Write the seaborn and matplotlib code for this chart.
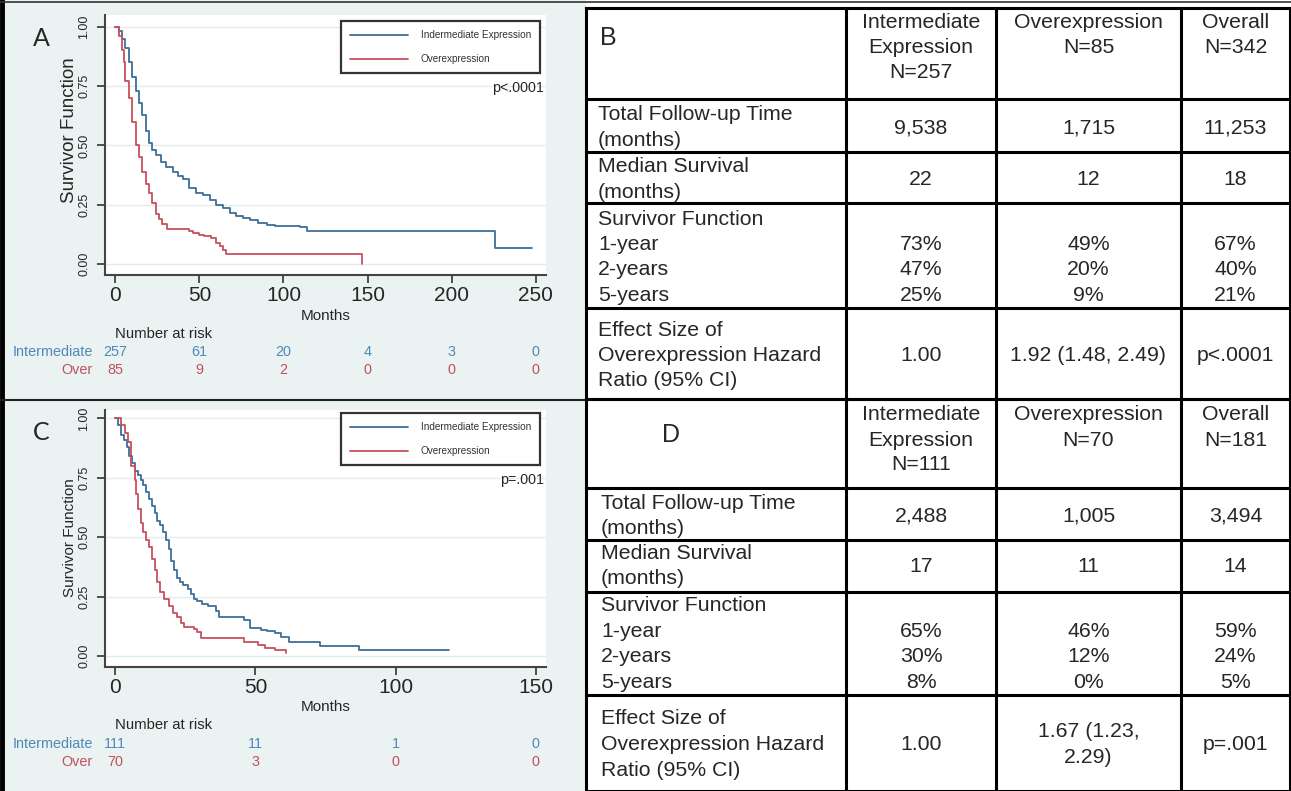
import numpy as np
import pandas as pd
import matplotlib
matplotlib.use("Agg")
import matplotlib.pyplot as plt
import matplotlib.transforms as mtransforms
from matplotlib.lines import Line2D
from matplotlib.patches import Rectangle
import seaborn as sns

# ===================================================
# DATA
# ===================================================

# Panel A - Kaplan-Meier steps (months, survivor function)
a_int_t = [0, 2, 4, 6, 8, 10, 12, 14, 16, 18, 20, 22, 24, 27, 30, 34, 37, 40, 44, 48,
           52, 56, 60, 64, 68, 72, 76, 80, 85, 90, 95, 110, 114, 226, 248]
a_int_s = [1.00, 0.98, 0.95, 0.91, 0.85, 0.79, 0.73, 0.68, 0.63, 0.56, 0.51, 0.48, 0.46,
           0.43, 0.41, 0.39, 0.37, 0.36, 0.32, 0.30, 0.29, 0.27, 0.25, 0.235, 0.217, 0.205,
           0.195, 0.185, 0.175, 0.165, 0.16, 0.155, 0.141, 0.07, 0.07]
a_over_t = [0, 2, 4, 5, 6, 8, 10, 12, 14, 16, 18, 20, 22, 24, 26, 28, 30.5, 44, 46,
            50, 53, 57, 60, 62, 64, 66, 147, 147]
a_over_s = [1.00, 0.96, 0.90, 0.85, 0.77, 0.70, 0.60, 0.50, 0.45, 0.39, 0.34, 0.30, 0.26,
            0.21, 0.19, 0.17, 0.147, 0.14, 0.13, 0.125, 0.12, 0.11, 0.09, 0.075, 0.06,
            0.043, 0.043, 0.0]
a_risk_t = [0, 50, 100, 150, 200, 250]
a_risk_int = [257, 61, 20, 4, 3, 0]
a_risk_over = [85, 9, 2, 0, 0, 0]

# Panel C - Kaplan-Meier steps
c_int_t = [0, 1, 2, 3, 4, 5, 6, 7, 8, 9, 10, 11, 12, 13, 14, 15, 16, 17, 18, 19, 20, 21,
           22, 23, 24, 26, 27, 28, 29, 31, 33, 36, 37, 46, 48, 52, 54, 57, 59, 62, 73,
           87, 119]
c_int_s = [1.00, 0.97, 0.93, 0.91, 0.88, 0.84, 0.81, 0.78, 0.76, 0.74, 0.72, 0.69, 0.66,
           0.63, 0.60, 0.57, 0.55, 0.52, 0.49, 0.45, 0.40, 0.36, 0.33, 0.31, 0.30, 0.28,
           0.26, 0.24, 0.23, 0.22, 0.21, 0.19, 0.165, 0.15, 0.116, 0.11, 0.105, 0.095,
           0.08, 0.06, 0.043, 0.025, 0.025]
c_over_t = [0, 2, 3.5, 4.5, 5.5, 7, 7.5, 8, 9, 10, 11, 12, 13, 14, 15, 16, 17.5, 19,
            20.5, 22, 23.5, 24.5, 28, 29, 30.5, 46, 51, 53.5, 57, 61]
c_over_s = [1.00, 0.97, 0.94, 0.90, 0.80, 0.74, 0.68, 0.62, 0.56, 0.52, 0.49, 0.46, 0.41,
            0.36, 0.31, 0.27, 0.24, 0.21, 0.18, 0.165, 0.14, 0.12, 0.115, 0.10, 0.075,
            0.06, 0.045, 0.035, 0.025, 0.011]
c_risk_t = [0, 50, 100, 150]
c_risk_int = [111, 11, 1, 0]
c_risk_over = [70, 3, 0, 0]

# Table B
b_heads = [["Intermediate", "Expression", "N=257"], ["Overexpression", "N=85"], ["Overall", "N=342"]]
b_followup = ["9,538", "1,715", "11,253"]
b_median = ["22", "12", "18"]
b_surv_1y = ["73%", "49%", "67%"]
b_surv_2y = ["47%", "20%", "40%"]
b_surv_5y = ["25%", "9%", "21%"]
b_hr = [["1.00"], ["1.92 (1.48, 2.49)"], ["p<.0001"]]

# Table D
d_heads = [["Intermediate", "Expression", "N=111"], ["Overexpression", "N=70"], ["Overall", "N=181"]]
d_followup = ["2,488", "1,005", "3,494"]
d_median = ["17", "11", "14"]
d_surv_1y = ["65%", "46%", "59%"]
d_surv_2y = ["30%", "12%", "24%"]
d_surv_5y = ["8%", "0%", "5%"]
d_hr = [["1.00"], ["1.67 (1.23,", "2.29)"], ["p=.001"]]

row_labels = [["Total Follow-up Time", "(months)"],
              ["Median Survival", "(months)"],
              ["Survivor Function", "1-year", "2-years", "5-years"],
              ["Effect Size of", "Overexpression Hazard", "Ratio (95% CI)"]]

group_names = ["Indermediate Expression", "Overexpression"]

# ===================================================
# STYLE
# ===================================================

W, H = 1291, 791
BLUE = "#3b6e98"
RED = "#c8505c"
BLUE_TXT = "#4f89b8"
RED_TXT = "#c2505f"
BG = "#eaf2f2"

sns.set_style("white")
plt.rcParams["font.family"] = ["Liberation Sans", "DejaVu Sans"]

fig = plt.figure(figsize=(W / 100, H / 100), dpi=100)


def frac(x0, y0, x1, y1):
    return [x0 / W, 1 - y1 / H, (x1 - x0) / W, (y1 - y0) / H]


# background / frame canvas in pixel coords
bg = fig.add_axes([0, 0, 1, 1], zorder=0)
bg.set_xlim(0, W)
bg.set_ylim(H, 0)
bg.axis("off")
bg.add_patch(Rectangle((0, 0), 586, 399, fc=BG, ec="none"))
bg.add_patch(Rectangle((0, 401), 586, 390, fc=BG, ec="none"))
bg.plot([2, 2], [0, H], color="black", lw=3.5)
bg.plot([0, W], [1.5, 1.5], color="#333333", lw=1.2)
bg.plot([0, 586], [400, 400], color="#222222", lw=1.5)


# ===================================================
# KM PANELS
# ===================================================

def km_panel(top, bottom, xlim, ylim, int_t, int_s, over_t, over_s,
             risk_t, risk_int, risk_over, ptxt, letter, ys):
    ax = fig.add_axes(frac(105.4, top, 545.6, bottom), zorder=2)
    ax.set_facecolor("white")
    df = pd.concat([
        pd.DataFrame({"Months": int_t, "Survival": int_s, "Group": group_names[0]}),
        pd.DataFrame({"Months": over_t, "Survival": over_s, "Group": group_names[1]}),
    ])
    sns.lineplot(data=df, x="Months", y="Survival", hue="Group",
                 palette=[BLUE, RED], estimator=None, sort=False,
                 drawstyle="steps-post", lw=1.3, ax=ax, legend=False)

    ax.set_xlim(xlim)
    ax.set_ylim(ylim)
    ax.set_xticks(risk_t)
    ax.set_xticklabels([str(t) for t in risk_t])
    ax.set_yticks([0, 0.25, 0.5, 0.75, 1.0])
    ax.set_yticklabels(["0.00", "0.25", "0.50", "0.75", "1.00"], rotation=90, va="center")
    ax.tick_params(axis="x", bottom=True, direction="out", length=6, width=1.2,
                   labelsize=15, pad=2, color="#333333")
    ax.tick_params(axis="y", left=True, direction="out", length=6, width=1.2,
                   labelsize=9, pad=5, color="#333333")
    for s in ["top", "right"]:
        ax.spines[s].set_visible(False)
    for s in ["left", "bottom"]:
        ax.spines[s].set_color("#444444")
        ax.spines[s].set_linewidth(1.5)
    ax.grid(axis="y", color="#e4eded", lw=1)
    ax.grid(axis="x", visible=False)

    hgt = bottom - top
    ax.set_xlabel("Months", fontsize=11)
    ax.xaxis.set_label_coords(0.5, (bottom - ys["months"]) / hgt)
    ax.xaxis.label.set_va("center")
    ax.set_ylabel("Survivor Function", fontsize=ys["ylab_fs"])
    ax.yaxis.set_label_coords((69.5 - 105.4) / 440.2, (bottom - ys["ylab"]) / hgt)
    ax.yaxis.label.set_va("center")

    handles = [Line2D([], [], color=BLUE, lw=1.3), Line2D([], [], color=RED, lw=1.3)]
    leg = ax.legend(handles, group_names, loc="upper right",
                    bbox_to_anchor=(540 / W, 1 - ys["leg"] / H),
                    bbox_transform=fig.transFigure, borderaxespad=0, fontsize=7.2,
                    handlelength=5.8, handletextpad=1.3, labelspacing=1.4,
                    borderpad=0.9, fancybox=False, edgecolor="#333333", framealpha=1)
    leg.get_frame().set_linewidth(1.6)
    for t in leg.get_texts():
        t.set_color("#333333")

    fig.text(543.8 / W, 1 - ys["p"] / H, ptxt, ha="right", va="center", fontsize=10.3)
    fig.text(41 / W, 1 - ys["letter"] / H, letter, ha="center", va="center",
             fontsize=18, family=["Lato", "DejaVu Sans"])

    # number at risk
    tr = mtransforms.blended_transform_factory(ax.transData, fig.transFigure)
    ax.text(0, 1 - ys["nrisk"] / H, "Number at risk", transform=tr,
            ha="left", va="center", fontsize=10.7)
    fig.text(93 / W, 1 - ys["r1"] / H, "Intermediate", ha="right", va="center",
             color=BLUE_TXT, fontsize=10.4)
    fig.text(93 / W, 1 - ys["r2"] / H, "Over", ha="right", va="center",
             color=RED_TXT, fontsize=10.4)
    for t, n1, n2 in zip(risk_t, risk_int, risk_over):
        ax.text(t, 1 - ys["r1"] / H, str(n1), transform=tr, ha="center", va="center",
                color=BLUE_TXT, fontsize=10.4)
        ax.text(t, 1 - ys["r2"] / H, str(n2), transform=tr, ha="center", va="center",
                color=RED_TXT, fontsize=10.4)
    return ax


km_panel(15, 275, (-5.95, 255.95), (-0.045, 1.049),
         a_int_t, a_int_s, a_over_t, a_over_s,
         a_risk_t, a_risk_int, a_risk_over, "p<.0001", "A",
         dict(months=316, leg=21, p=88, letter=38, nrisk=334, r1=352, r2=370,
              ylab=130, ylab_fs=13.5))

km_panel(410, 666.7, (-3.57, 153.57), (-0.045, 1.035),
         c_int_t, c_int_s, c_over_t, c_over_s,
         c_risk_t, c_risk_int, c_risk_over, "p=.001", "C",
         dict(months=707, leg=413, p=480, letter=433, nrisk=725, r1=744, r2=762,
              ylab=538, ylab_fs=11))


# ===================================================
# TABLES
# ===================================================

col_x = [586, 846, 996, 1181, 1290]
col_c = [(col_x[i] + col_x[i + 1]) / 2 for i in range(1, 4)]
TFS = 15.3


def draw_table(letter, letter_xy, hlines, head_y, label_x, label_y, pitch,
               heads, followup, median, s1, s2, s5, hr):
    for y in hlines:
        bg.plot([col_x[0], col_x[-1]], [y, y], color="black", lw=2.2, solid_capstyle="projecting")
    for x in col_x:
        bg.plot([x, x], [hlines[0], hlines[-1]], color="black", lw=2.2, solid_capstyle="projecting")
    bg.text(letter_xy[0], letter_xy[1], letter, ha="center", va="center", fontsize=18)

    for xc, lines in zip(col_c, heads):
        for i, s in enumerate(lines):
            bg.text(xc, head_y + i * 25, s, ha="center", va="center", fontsize=TFS)

    for y0, lines in zip(label_y, row_labels):
        for i, s in enumerate(lines):
            bg.text(label_x, y0 + i * pitch, s, ha="left", va="center", fontsize=TFS)

    for xc, a, b, c1, c2, c3, h in zip(col_c, followup, median, s1, s2, s5, hr):
        bg.text(xc, label_y[0] + pitch / 2, a, ha="center", va="center", fontsize=TFS)
        bg.text(xc, label_y[1] + pitch / 2, b, ha="center", va="center", fontsize=TFS)
        for k, v in enumerate([c1, c2, c3]):
            bg.text(xc, label_y[2] + (k + 1) * pitch, v, ha="center", va="center", fontsize=TFS)
        mid = label_y[3] + pitch
        for k, v in enumerate(h):
            bg.text(xc, mid + (k - (len(h) - 1) / 2) * pitch, v,
                    ha="center", va="center", fontsize=TFS)


draw_table("B", (608, 38), [8, 99, 152, 203, 308, 399], 22.7, 598,
           [115, 166.7, 219.3, 330], 25.3,
           b_heads, b_followup, b_median, b_surv_1y, b_surv_2y, b_surv_5y, b_hr)

draw_table("D", (671, 435), [399, 488, 540, 592, 695, 791], 415, 601,
           [503.3, 553.3, 605.7, 719], 25.5,
           d_heads, d_followup, d_median, d_surv_1y, d_surv_2y, d_surv_5y, d_hr)

fig.savefig("out.png", dpi=100)
